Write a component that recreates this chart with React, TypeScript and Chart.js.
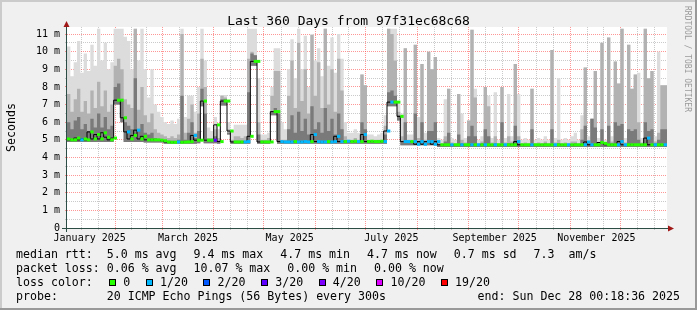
import React, { useEffect, useRef } from 'react';
import { Chart, registerables } from 'chart.js';

Chart.register(...registerables);

const MONO = "'DejaVu Sans Mono', 'Liberation Mono', monospace";

// x axis in day-of-year 2025 (Jan 1 = 0); 180 bins of 2 days
const X_MIN = 1.9;
const X_MAX = 361.9;
const BIN_DAYS = 2;

const MEDIAN_MS = [
  5.05, 5.00, 5.00, 5.10, 5.00, 5.05, 5.00, 5.45, 5.05, 5.30,
  5.05, 5.40, 5.15, 5.00, 5.10, 7.25, 7.25, 6.25, 5.45, 5.05,
  5.25, 5.55, 5.05, 5.20, 5.00, 5.00, 5.00, 5.00, 4.98, 4.95,
  4.88, 4.86, 4.86, 4.88, 4.86, 4.87, 4.88, 4.90, 5.25, 4.98,
  4.98, 7.20, 4.98, 4.98, 4.98, 5.85, 4.90, 7.20, 7.20, 5.50,
  4.88, 4.88, 4.88, 4.88, 4.90, 5.20, 9.45, 9.45, 4.88, 4.88,
  4.88, 4.88, 6.60, 6.60, 4.90, 4.88, 4.88, 4.88, 4.90, 4.88,
  4.88, 4.90, 4.88, 4.90, 5.30, 4.90, 4.88, 4.88, 4.90, 4.88,
  4.90, 5.20, 4.90, 4.90, 4.92, 4.90, 4.92, 4.90, 4.90, 5.30,
  4.90, 4.92, 4.90, 4.90, 4.92, 4.90, 5.50, 7.14, 7.14, 7.14,
  6.33, 4.90, 4.90, 4.90, 4.90, 4.75, 4.90, 4.75, 4.90, 4.90,
  4.75, 4.90, 4.72, 4.72, 4.72, 4.72, 4.72, 4.72, 4.72, 4.72,
  4.72, 4.72, 4.72, 4.72, 4.72, 4.72, 4.72, 4.72, 4.72, 4.72,
  4.72, 4.72, 4.72, 4.72, 4.72, 4.90, 4.72, 4.72, 4.72, 4.72,
  4.72, 4.72, 4.72, 4.72, 4.72, 4.72, 4.72, 4.72, 4.72, 4.72,
  4.72, 4.72, 4.72, 4.72, 4.72, 4.72, 4.88, 4.72, 4.72, 4.72,
  4.85, 4.80, 4.72, 4.72, 4.72, 4.72, 4.90, 4.72, 4.72, 4.72,
  4.72, 4.72, 4.72, 4.72, 5.10, 4.72, 4.72, 4.72, 4.72, 4.72,
];

// index into LOSS_COLORS (0 = 0 lost, 1 = 1/20, ..., 3 = 3/20)
const LOSS_LEVEL = [
  0, 0, 0, 0, 1, 0, 0, 0, 0, 0,
  0, 0, 0, 0, 0, 0, 0, 0, 1, 0,
  0, 1, 0, 0, 0, 0, 0, 0, 0, 0,
  0, 0, 0, 1, 0, 0, 0, 0, 1, 0,
  0, 0, 0, 0, 3, 0, 0, 0, 0, 0,
  0, 0, 0, 1, 1, 0, 0, 0, 0, 0,
  0, 0, 0, 0, 1, 1, 1, 1, 0, 1,
  1, 1, 1, 0, 1, 1, 1, 1, 0, 1,
  1, 1, 1, 0, 1, 0, 0, 1, 0, 1,
  0, 0, 0, 0, 0, 1, 1, 1, 0, 0,
  0, 1, 1, 0, 1, 1, 1, 1, 1, 1,
  1, 1, 0, 0, 0, 1, 0, 0, 1, 0,
  0, 1, 0, 1, 0, 1, 0, 0, 1, 0,
  0, 1, 0, 0, 0, 1, 0, 0, 0, 1,
  0, 0, 0, 0, 0, 0, 1, 0, 0, 0,
  1, 0, 0, 0, 0, 1, 1, 1, 0, 0,
  0, 0, 0, 0, 0, 1, 1, 1, 0, 0,
  0, 0, 0, 0, 1, 0, 1, 0, 0, 1,
];

const SMOKE_LO = [
  4.88, 4.88, 4.88, 4.88, 4.88, 4.88, 4.88, 4.88, 4.88, 4.88,
  4.88, 4.88, 4.88, 4.88, 4.88, 7.00, 7.00, 6.00, 4.88, 4.88,
  4.88, 4.88, 4.88, 4.88, 4.85, 4.85, 4.85, 4.85, 4.85, 4.85,
  4.78, 4.78, 4.78, 4.78, 4.78, 4.78, 4.78, 4.78, 4.78, 4.78,
  4.80, 6.90, 4.80, 4.80, 4.80, 4.80, 4.78, 6.95, 6.95, 5.30,
  4.78, 4.78, 4.78, 4.78, 4.78, 4.78, 9.20, 9.20, 4.78, 4.78,
  4.78, 4.78, 6.40, 6.40, 4.78, 4.78, 4.78, 4.78, 4.78, 4.78,
  4.78, 4.78, 4.78, 4.78, 4.78, 4.78, 4.78, 4.78, 4.78, 4.78,
  4.78, 4.78, 4.78, 4.78, 4.78, 4.78, 4.78, 4.78, 4.78, 4.78,
  4.78, 4.78, 4.78, 4.78, 4.78, 4.78, 4.78, 6.90, 6.90, 6.90,
  6.10, 4.70, 4.70, 4.70, 4.70, 4.70, 4.70, 4.70, 4.70, 4.70,
  4.70, 4.70, 4.60, 4.60, 4.60, 4.60, 4.60, 4.60, 4.60, 4.60,
  4.60, 4.60, 4.60, 4.60, 4.60, 4.60, 4.60, 4.60, 4.60, 4.60,
  4.60, 4.60, 4.60, 4.60, 4.60, 4.60, 4.60, 4.60, 4.60, 4.60,
  4.60, 4.60, 4.60, 4.60, 4.60, 4.60, 4.60, 4.60, 4.60, 4.60,
  4.60, 4.60, 4.60, 4.60, 4.60, 4.60, 4.60, 4.60, 4.60, 4.60,
  4.60, 4.60, 4.60, 4.60, 4.60, 4.60, 4.60, 4.60, 4.60, 4.60,
  4.60, 4.60, 4.60, 4.60, 4.60, 4.60, 4.60, 4.60, 4.60, 4.60,
];

const SMOKE_LIGHT = [
  7.8, 10.3, 8.6, 9.4, 10.6, 8.8, 9.9, 8.9, 10.4, 9.2,
  11.3, 9.5, 10.5, 9.0, 9.4, 11.3, 11.3, 11.3, 10.85, 10.6,
  9.0, 11.3, 9.5, 11.3, 9.0, 7.4, 9.0, 7.0, 6.6, 6.3,
  6.0, 5.9, 6.1, 5.9, 6.2, 11.3, 6.3, 7.5, 7.5, 6.6,
  8.0, 11.3, 9.5, 5.7, 5.5, 6.3, 5.6, 7.55, 7.55, 6.0,
  5.5, 5.85, 5.85, 5.85, 5.85, 11.3, 11.3, 11.3, 8.5, 5.3,
  5.3, 5.4, 8.0, 10.2, 10.2, 6.0, 5.6, 9.0, 10.7, 8.5,
  11.3, 9.0, 10.9, 8.0, 11.0, 9.5, 10.2, 8.6, 11.3, 9.2,
  10.8, 8.8, 11.0, 9.6, 6.0, 5.4, 5.4, 5.6, 5.4, 8.7,
  8.1, 5.3, 5.3, 5.2, 5.3, 5.4, 6.4, 11.3, 11.3, 11.3,
  7.2, 6.5, 10.2, 5.3, 5.3, 10.4, 6.3, 9.3, 5.4, 10.0,
  9.0, 9.7, 5.1, 5.0, 7.3, 7.9, 5.1, 5.0, 7.6, 6.5,
  5.1, 6.1, 11.25, 7.9, 5.0, 5.2, 8.0, 7.5, 5.1, 7.7,
  5.0, 8.0, 5.1, 7.6, 5.2, 9.3, 7.6, 5.0, 5.1, 5.0,
  7.9, 5.0, 5.1, 5.0, 5.2, 5.0, 10.1, 5.1, 8.5, 5.0,
  5.1, 5.0, 5.2, 5.4, 5.0, 6.4, 9.1, 5.2, 6.2, 8.9,
  5.1, 10.5, 5.0, 10.8, 5.2, 9.45, 8.2, 11.3, 5.1, 10.4,
  7.9, 8.7, 8.8, 5.1, 11.3, 8.5, 8.9, 5.2, 10.0, 8.1,
];

const SMOKE_MID = [
  6.4, 7.6, 6.6, 7.3, 7.9, 6.6, 7.2, 6.5, 7.8, 6.8,
  8.3, 6.9, 7.8, 6.6, 7.0, 9.2, 9.6, 9.0, 7.3, 7.0,
  6.8, 11.3, 6.7, 8.0, 6.4, 6.0, 6.5, 5.6, 5.4, 5.3,
  5.2, 5.1, 5.2, 5.1, 5.3, 11.0, 5.4, 6.2, 7.0, 5.4,
  6.5, 9.6, 8.0, 5.1, 5.1, 5.6, 5.1, 7.5, 7.4, 5.6,
  5.0, 5.2, 5.2, 5.1, 5.2, 9.6, 10.0, 9.8, 6.0, 5.0,
  5.0, 5.1, 7.5, 8.9, 8.9, 5.0, 5.0, 7.5, 9.5, 6.8,
  10.5, 7.2, 9.0, 6.5, 10.95, 7.5, 9.4, 6.8, 11.3, 7.0,
  9.0, 6.6, 9.6, 7.8, 5.2, 5.0, 5.0, 5.1, 5.0, 8.7,
  8.1, 5.0, 5.0, 5.0, 5.0, 5.0, 5.8, 11.3, 11.0, 9.5,
  6.6, 5.2, 10.2, 5.0, 5.0, 10.4, 5.1, 9.3, 5.0, 10.0,
  9.0, 9.7, 4.85, 4.8, 5.2, 7.9, 4.85, 4.8, 7.6, 5.0,
  4.85, 6.1, 11.25, 7.4, 4.8, 4.9, 8.0, 6.9, 4.85, 5.2,
  4.8, 8.0, 4.85, 5.2, 4.9, 9.3, 5.2, 4.8, 4.85, 4.8,
  7.9, 4.8, 4.85, 4.8, 4.9, 4.8, 10.1, 4.85, 5.0, 4.8,
  4.85, 4.8, 4.9, 4.9, 4.8, 5.6, 9.1, 4.9, 6.2, 8.9,
  4.85, 10.5, 4.8, 10.8, 4.9, 9.45, 8.2, 11.3, 4.85, 10.4,
  7.9, 8.7, 6.0, 4.85, 11.3, 8.5, 8.9, 4.9, 5.4, 8.1,
];

const SMOKE_DARK = [
  5.5, 6.0, 5.6, 6.1, 6.3, 5.6, 5.9, 5.5, 6.2, 5.7,
  6.5, 5.7, 6.3, 5.6, 5.8, 8.0, 8.2, 7.2, 6.0, 5.8,
  5.6, 8.5, 5.6, 5.9, 5.4, 5.3, 5.4, 5.1, 5.05, 5.0,
  4.95, 4.95, 4.95, 4.95, 5.0, 7.5, 5.0, 5.4, 6.0, 5.1,
  5.5, 7.9, 6.5, 4.95, 4.95, 5.2, 4.95, 7.3, 7.3, 5.4,
  4.95, 4.95, 4.95, 4.95, 4.95, 7.7, 9.9, 9.8, 5.3, 4.95,
  4.95, 4.95, 6.6, 6.8, 6.5, 4.95, 4.95, 5.6, 6.4, 5.4,
  6.6, 5.5, 6.2, 5.3, 6.9, 5.6, 6.0, 5.4, 6.8, 5.5,
  6.2, 5.3, 6.5, 5.6, 4.95, 4.95, 4.95, 4.95, 4.95, 6.0,
  5.6, 4.95, 4.95, 4.95, 4.95, 4.95, 5.3, 7.7, 7.8, 7.5,
  6.4, 4.9, 6.0, 4.9, 4.9, 6.5, 4.9, 6.0, 4.9, 5.5,
  5.5, 6.0, 4.72, 4.72, 4.9, 5.4, 4.72, 4.72, 5.3, 4.8,
  4.72, 5.2, 5.8, 5.2, 4.72, 4.8, 5.6, 5.2, 4.72, 4.8,
  4.72, 6.0, 4.72, 4.8, 4.8, 5.8, 4.8, 4.72, 4.72, 4.72,
  5.6, 4.72, 4.72, 4.72, 4.8, 4.72, 5.6, 4.72, 4.8, 4.72,
  4.72, 4.72, 4.72, 4.8, 4.72, 5.0, 5.8, 4.8, 6.2, 5.7,
  4.72, 5.6, 4.72, 5.8, 4.8, 6.0, 5.8, 5.9, 4.72, 5.6,
  5.5, 5.6, 5.0, 4.72, 6.0, 5.5, 5.6, 4.8, 5.0, 5.6,
];

const MONTH_STARTS = [0, 31, 59, 90, 120, 151, 181, 212, 243, 273, 304, 334, 365];
const MONTH_LABELS = ['January 2025', '', 'March 2025', '', 'May 2025', '', 'July 2025', '', 'September 2025', '', 'November 2025', ''];
const LABEL_OFFSET_DAYS = 15.5;
const Y_TICKS = [0, 0.5, 1, 1.5, 2, 2.5, 3, 3.5, 4, 4.5, 5, 5.5, 6, 6.5, 7, 7.5, 8, 8.5, 9, 9.5, 10, 10.5, 11];
const Y_MAX = 11.4;

const LOSS_COLORS = ['#26ff00', '#00b8ff', '#0059ff', '#5e00ff', '#7e00ff', '#dd00ff', '#ff0000'];
const LOSS_LABELS = ['0', '1/20', '2/20', '3/20', '4/20', '10/20', '19/20'];

const TITLE = 'Last 360 Days from 97f31ec68c68';
const Y_TITLE = 'Seconds';
const WATERMARK = 'RRDTOOL / TOBI OETIKER';
const RTT_ITEMS = ['median rtt:  ', '5.0 ms avg  ', '9.4 ms max  ', '4.7 ms min  ', '4.7 ms now  ', '0.7 ms sd  ', '7.3  am/s'];
const LOSS_ITEMS = ['packet loss: ', '0.06 % avg  ', '10.07 % max  ', '0.00 % min  ', '0.00 % now'];
const LOSS_COLOR_TITLE = 'loss color:';
const PROBE_TEXT = 'probe:       20 ICMP Echo Pings (56 Bytes) every 300s';
const END_TEXT = 'end: Sun Dec 28 00:18:36 2025';

const BG = '#f0f0f0';
const MAJOR_GRID = 'rgba(255, 64, 64, 0.55)';
const MINOR_GRID = 'rgba(128, 128, 128, 0.42)';
const AXIS_COLOR = '#2c4d43';
const ARROW_COLOR = '#a01818';
const LIGHT_SMOKE = '#dcdcdc';
const MID_SMOKE = '#b2b2b2';
const DARK_SMOKE = '#7a7a7a';

const binStart = (i: number) => X_MIN + i * BIN_DAYS;
const stepPoints = (arr: number[]) => [
  ...arr.map((v, i) => ({ x: binStart(i), y: v })),
  { x: binStart(arr.length), y: arr[arr.length - 1] },
];

type XTick = { value: number; kind: 'major' | 'minor' | 'label'; text: string };
const buildXTicks = (): XTick[] => {
  const t: XTick[] = [];
  for (let m = 0; m < 12; m++) {
    const s = MONTH_STARTS[m];
    const len = MONTH_STARTS[m + 1] - s;
    const cand: [number, 'major' | 'minor'][] = [[s, 'major'], [s + len / 3, 'minor'], [s + (2 * len) / 3, 'minor']];
    cand.forEach(([v, k]) => {
      if (v >= X_MIN && v <= X_MAX) t.push({ value: v, kind: k, text: '' });
    });
    if (MONTH_LABELS[m]) t.push({ value: s + LABEL_OFFSET_DAYS, kind: 'label', text: MONTH_LABELS[m] });
  }
  return t.sort((a, b) => a.value - b.value);
};

const decorPlugin = {
  id: 'decor',
  beforeDraw(chart: any) {
    const { ctx, width, height, chartArea: a } = chart;
    ctx.save();
    ctx.fillStyle = BG;
    ctx.fillRect(0, 0, width, height);
    ctx.fillStyle = '#cbcbcb';
    ctx.fillRect(0, 0, width, 2);
    ctx.fillRect(0, 0, 2, height);
    ctx.fillStyle = '#999999';
    ctx.fillRect(0, height - 2, width, 2);
    ctx.fillRect(width - 2, 0, 2, height);
    ctx.fillStyle = '#ffffff';
    ctx.fillRect(a.left, a.top, a.right - a.left, a.bottom - a.top);
    ctx.restore();
  },
  afterDraw(chart: any) {
    const { ctx, chartArea: a, width } = chart;
    ctx.save();
    ctx.strokeStyle = AXIS_COLOR;
    ctx.lineWidth = 1;
    ctx.beginPath();
    ctx.moveTo(a.left - 5, a.bottom + 0.5);
    ctx.lineTo(a.right + 1, a.bottom + 0.5);
    ctx.moveTo(a.left - 0.5, a.bottom + 4);
    ctx.lineTo(a.left - 0.5, a.top - 1);
    ctx.stroke();
    ctx.fillStyle = ARROW_COLOR;
    ctx.beginPath();
    ctx.moveTo(a.right + 1, a.bottom - 2.5);
    ctx.lineTo(a.right + 1, a.bottom + 3.5);
    ctx.lineTo(a.right + 7, a.bottom + 0.5);
    ctx.closePath();
    ctx.fill();
    ctx.beginPath();
    ctx.moveTo(a.left - 3.5, a.top);
    ctx.lineTo(a.left + 2.5, a.top);
    ctx.lineTo(a.left - 0.5, a.top - 6);
    ctx.closePath();
    ctx.fill();

    ctx.fillStyle = '#000';
    ctx.font = `13px ${MONO}`;
    ctx.textAlign = 'center';
    ctx.textBaseline = 'alphabetic';
    ctx.fillText(TITLE, width / 2, 25);

    ctx.save();
    ctx.translate(15, (a.top + a.bottom) / 2);
    ctx.rotate(-Math.PI / 2);
    ctx.font = `11.6px ${MONO}`;
    ctx.fillText(Y_TITLE, 0, 0);
    ctx.restore();

    ctx.save();
    ctx.translate(685, 59);
    ctx.rotate(Math.PI / 2);
    ctx.font = `8px ${MONO}`;
    ctx.fillStyle = '#9a9a9a';
    ctx.fillText(WATERMARK, 0, 0);
    ctx.restore();

    ctx.font = `11.6px ${MONO}`;
    ctx.textAlign = 'left';
    ctx.fillStyle = '#000';
    let x = 16;
    RTT_ITEMS.forEach((t, k) => {
      ctx.fillText(t, x, 258);
      x += ctx.measureText(t).width + (k === 0 ? 0 : 3);
    });
    x = 16;
    LOSS_ITEMS.forEach((t, k) => {
      ctx.fillText(t, x, 272);
      x += ctx.measureText(t).width + (k === 0 ? 0 : 3);
    });
    ctx.fillText(LOSS_COLOR_TITLE, 16, 286);
    let bx = 109;
    LOSS_LABELS.forEach((lbl, k) => {
      const px = Math.round(bx);
      ctx.fillStyle = LOSS_COLORS[k];
      ctx.fillRect(px, 279, 7, 7);
      ctx.strokeStyle = '#000';
      ctx.lineWidth = 1;
      ctx.strokeRect(px + 0.5, 279.5, 6, 6);
      ctx.fillStyle = '#000';
      const tx = bx + 14.3;
      ctx.fillText(lbl, tx, 286);
      bx = tx + ctx.measureText(lbl).width + 15.4;
    });
    ctx.fillText(PROBE_TEXT, 16, 300);
    ctx.textAlign = 'right';
    ctx.fillText(END_TEXT, 680, 300);
    ctx.restore();
  },
};

export default function App() {
  const ref = useRef<HTMLCanvasElement>(null);

  useEffect(() => {
    const canvas = ref.current;
    if (!canvas) return;
    const xTicks = buildXTicks();
    const labelByValue = new Map<number, string>();
    const kindByValue = new Map<number, string>();
    xTicks.forEach((t) => {
      labelByValue.set(t.value, t.text);
      kindByValue.set(t.value, t.kind);
    });

    const lossPts: any[] = [];
    const lossBin: number[] = [];
    MEDIAN_MS.forEach((v, i) => {
      if (LOSS_LEVEL[i] < 0) return;
      lossPts.push({ x: binStart(i), y: v }, { x: binStart(i + 1), y: v }, { x: binStart(i + 1), y: null });
      lossBin.push(i, i, i);
    });

    const smoke = (arr: number[], color: string) => ({
      data: stepPoints(arr),
      stepped: 'after',
      borderWidth: 0,
      borderColor: 'transparent',
      backgroundColor: color,
      pointRadius: 0,
      fill: 5,
    });

    const xGridColor = (ctx: any) => {
      const k = kindByValue.get(ctx.tick?.value);
      return k === 'major' ? MAJOR_GRID : k === 'minor' ? MINOR_GRID : 'rgba(0,0,0,0)';
    };
    const yGridColor = (ctx: any) => (Number.isInteger(ctx.tick?.value) ? MAJOR_GRID : MINOR_GRID);

    const chart = new Chart(canvas, {
      type: 'line',
      data: {
        datasets: [
          {
            data: lossPts,
            borderWidth: 3,
            borderColor: LOSS_COLORS[0],
            borderCapStyle: 'butt',
            pointRadius: 0,
            fill: false,
            spanGaps: false,
            segment: {
              borderColor: (c: any) => LOSS_COLORS[LOSS_LEVEL[lossBin[c.p0DataIndex]]] || LOSS_COLORS[0],
            },
          } as any,
          {
            data: stepPoints(MEDIAN_MS),
            stepped: 'after',
            borderWidth: 1,
            borderColor: '#000000',
            pointRadius: 0,
            fill: false,
          } as any,
          smoke(SMOKE_DARK, DARK_SMOKE) as any,
          smoke(SMOKE_MID, MID_SMOKE) as any,
          smoke(SMOKE_LIGHT, LIGHT_SMOKE) as any,
          {
            data: stepPoints(SMOKE_LO),
            stepped: 'after',
            borderWidth: 0,
            borderColor: 'transparent',
            pointRadius: 0,
            fill: false,
          } as any,
        ],
      },
      options: {
        responsive: false,
        animation: false,
        devicePixelRatio: 1,
        events: [],
        layout: { padding: { top: 27, right: 30, bottom: 0, left: 0 } },
        plugins: {
          legend: { display: false },
          tooltip: { enabled: false },
          title: { display: false },
        },
        scales: {
          x: {
            type: 'linear',
            min: X_MIN,
            max: X_MAX,
            z: 1,
            afterBuildTicks: (s: any) => {
              s.ticks = xTicks.map((t) => ({ value: t.value }));
            },
            afterFit: (s: any) => {
              s.height = 82;
            },
            ticks: {
              autoSkip: false,
              maxRotation: 0,
              minRotation: 0,
              padding: 2,
              color: '#000',
              font: { family: MONO, size: 10 },
              callback: (v: any) => labelByValue.get(v) ?? '',
            },
            grid: {
              color: xGridColor,
              tickColor: xGridColor,
              lineWidth: 1,
              tickLength: 2,
              drawTicks: true,
            },
            border: { display: false, dash: [1, 1] },
          },
          y: {
            type: 'linear',
            min: 0,
            max: Y_MAX,
            z: 1,
            afterBuildTicks: (s: any) => {
              s.ticks = Y_TICKS.map((v) => ({ value: v }));
            },
            afterFit: (s: any) => {
              s.width = 67;
            },
            ticks: {
              autoSkip: false,
              padding: 5,
              color: '#000',
              font: { family: MONO, size: 10 },
              callback: (v: any) => (Number.isInteger(v) ? (v === 0 ? '0' : `${v} m`) : ''),
            },
            grid: {
              color: yGridColor,
              tickColor: yGridColor,
              lineWidth: 1,
              tickLength: 2,
              drawTicks: true,
            },
            border: { display: false, dash: [1, 1] },
          },
        },
      } as any,
      plugins: [decorPlugin],
    });
    return () => chart.destroy();
  }, []);

  return (
    <div style={{ position: 'fixed', left: 0, top: 0, width: 697, height: 310 }}>
      <canvas ref={ref} width={697} height={310} style={{ display: 'block', width: 697, height: 310 }} />
    </div>
  );
}
